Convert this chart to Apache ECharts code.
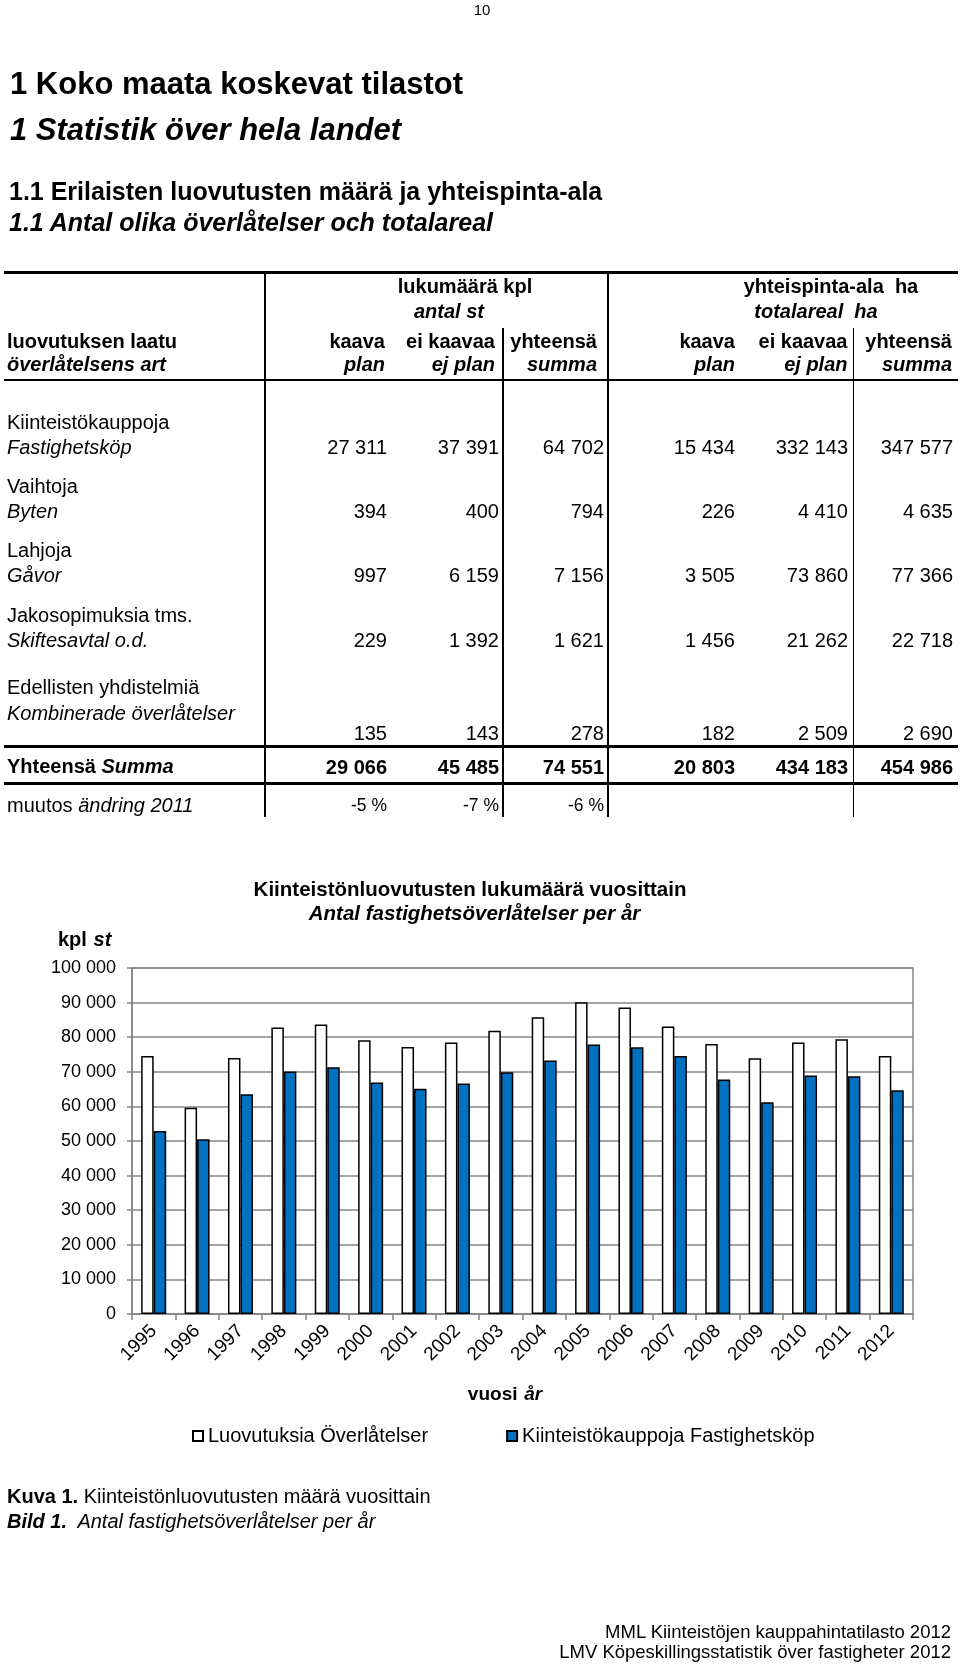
<!DOCTYPE html>
<html>
<head>
<meta charset="utf-8">
<script src="https://cdn.jsdelivr.net/npm/echarts@6/dist/echarts.min.js"></script>
<style>
  html, body { margin: 0; padding: 0; background: #fff; }
  #page { position: relative; width: 960px; height: 1665px; overflow: hidden;
          font-family: "Liberation Sans", Arial, Helvetica, sans-serif; color: #000; }
  #chart { position: absolute; left: 0; top: 0; width: 960px; height: 1665px; }
  .t { position: absolute; white-space: nowrap; line-height: 1; }
  .ln { position: absolute; background: #000; }
</style>
</head>
<body>
<div id="page">
  <div id="chart"></div>
</div>
<script>
// --- table data (2012) ---
const rowsFi = ['Kiinteistökauppoja', 'Vaihtoja', 'Lahjoja', 'Jakosopimuksia tms.', 'Edellisten yhdistelmiä'];
const rowsSv = ['Fastighetsköp', 'Byten', 'Gåvor', 'Skiftesavtal o.d.', 'Kombinerade överlåtelser'];
const countPlan = [27311, 394, 997, 229, 135];
const countNoPlan = [37391, 400, 6159, 1392, 143];
const countTotal = [64702, 794, 7156, 1621, 278];
const areaPlan = [15434, 226, 3505, 1456, 182];
const areaNoPlan = [332143, 4410, 73860, 21262, 2509];
const areaTotal = [347577, 4635, 77366, 22718, 2690];
const sumRow = [29066, 45485, 74551, 20803, 434183, 454986];
const changeRow = ['-5 %', '-7 %', '-6 %'];

// --- chart data ---
const years = ['1995', '1996', '1997', '1998', '1999', '2000', '2001', '2002', '2003',
               '2004', '2005', '2006', '2007', '2008', '2009', '2010', '2011', '2012'];
const transfers = [74600, 59600, 74000, 82800, 83700, 79100, 77200, 78500, 81900,
                   85800, 90100, 88600, 83100, 78000, 73900, 78500, 79400, 74551];
const purchases = [52900, 50500, 63500, 70100, 71300, 66900, 65100, 66600, 69900,
                   73300, 77900, 77100, 74600, 67800, 61200, 68900, 68700, 64702];

const page = document.getElementById('page');
const FONT = '"Liberation Sans", Arial, Helvetica, sans-serif';

function fmt(n) {
  return String(n).replace(/\B(?=(\d{3})+(?!\d))/g, ' ');
}

// put text with its vertical middle at y; align l / r / c
function put(html, x, y, size, align, css) {
  const d = document.createElement('div');
  d.className = 't';
  d.innerHTML = html;
  d.style.left = x + 'px';
  d.style.top = y + 'px';
  d.style.fontSize = size + 'px';
  const tx = align === 'r' ? '-100%' : align === 'c' ? '-50%' : '0';
  d.style.transform = 'translate(' + tx + ',-50%)';
  if (css) d.style.cssText += css;
  page.appendChild(d);
}

function hline(x1, x2, y, w) {
  const d = document.createElement('div');
  d.className = 'ln';
  d.style.left = x1 + 'px'; d.style.width = (x2 - x1) + 'px';
  d.style.top = (y - w / 2) + 'px'; d.style.height = w + 'px';
  page.appendChild(d);
}
function vline(x, y1, y2, w) {
  const d = document.createElement('div');
  d.className = 'ln';
  d.style.left = (x - w / 2) + 'px'; d.style.width = w + 'px';
  d.style.top = y1 + 'px'; d.style.height = (y2 - y1) + 'px';
  page.appendChild(d);
}

// page heading
put('10', 482, 8.5, 15, 'c');
put('1 Koko maata koskevat tilastot', 10, 83, 31, 'l', 'font-weight:bold;');
put('1 Statistik över hela landet', 10, 129, 31, 'l', 'font-weight:bold;font-style:italic;');
put('1.1 Erilaisten luovutusten määrä ja yhteispinta-ala', 9, 191, 25, 'l', 'font-weight:bold;');
put('1.1 Antal olika överlåtelser och totalareal', 9, 222, 25, 'l', 'font-weight:bold;font-style:italic;');

// table lines
hline(4, 958, 272.5, 3);
hline(4, 958, 380, 2.7);
hline(4, 958, 746.5, 3);
hline(4, 958, 783.5, 3);
vline(265, 274, 817, 1.8);
vline(608, 274, 817, 1.8);
vline(503, 328, 817, 1.8);
vline(853.5, 328, 817, 1.8);

// table header
const B = 'font-weight:bold;';
const BI = 'font-weight:bold;font-style:italic;';
put('lukumäärä kpl', 465, 286, 20, 'c', B);
put('antal st', 449, 311, 20, 'c', BI);
put('yhteispinta-ala&nbsp; ha', 831, 286, 20, 'c', B);
put('totalareal&nbsp; ha', 816, 311, 20, 'c', BI);
put('luovutuksen laatu', 7, 341, 20, 'l', B);
put('överlåtelsens art', 7, 364, 20, 'l', BI);
const headR = [385, 495, 597, 735, 847.5, 952];
const headFi = ['kaava', 'ei kaavaa', 'yhteensä', 'kaava', 'ei kaavaa', 'yhteensä'];
const headSv = ['plan', 'ej plan', 'summa', 'plan', 'ej plan', 'summa'];
headR.forEach((x, i) => {
  put(headFi[i], x, 341, 20, 'r', B);
  put(headSv[i], x, 364, 20, 'r', BI);
});

// table body
const colR = [387, 499, 604, 735, 848, 953];
const cols = [countPlan, countNoPlan, countTotal, areaPlan, areaNoPlan, areaTotal];
const yFi = [422, 486, 550, 615, 687];
const ySv = [446.5, 511, 575, 640, 713];
const yNum = [446.5, 511, 575, 640, 733];
rowsFi.forEach((name, r) => {
  put(name, 7, yFi[r], 20, 'l');
  put(rowsSv[r], 7, ySv[r], 20, 'l', 'font-style:italic;');
  cols.forEach((col, c) => put(fmt(col[r]), colR[c], yNum[r], 20, 'r'));
});
put('Yhteensä <i>Summa</i>', 7, 766, 20, 'l', B);
sumRow.forEach((v, c) => put(fmt(v), colR[c], 766.5, 20, 'r', B));
put('muutos <i>ändring 2011</i>', 7, 805, 20, 'l');
changeRow.forEach((v, c) => put(v, colR[c], 806, 17.5, 'r'));

// caption and footer
put('<b>Kuva 1.</b> Kiinteistönluovutusten määrä vuosittain', 7, 1496, 20, 'l');
put('<b>Bild 1.</b>&nbsp; Antal fastighetsöverlåtelser per år', 7, 1520.5, 20, 'l', 'font-style:italic;');
put('MML Kiinteistöjen kauppahintatilasto 2012', 951, 1632, 18.5, 'r');
put('LMV Köpeskillingsstatistik över fastigheter 2012', 951, 1652, 18.5, 'r');

// --- chart ---
const chart = echarts.init(document.getElementById('chart'));
const GRAY = '#868686';
chart.setOption({
  animation: false,
  textStyle: { fontFamily: FONT, color: '#000' },
  grid: { left: 132, right: 47, top: 968, bottom: 351, show: true,
          borderColor: GRAY, borderWidth: 1.5, backgroundColor: 'transparent' },
  graphic: [
    { type: 'text', x: 470, y: 890,
      style: { text: 'Kiinteistönluovutusten lukumäärä vuosittain', font: 'bold 20.5px ' + FONT,
               fill: '#000', align: 'center', verticalAlign: 'middle' } },
    { type: 'text', x: 474.5, y: 914,
      style: { text: 'Antal fastighetsöverlåtelser per år', font: 'italic bold 20.5px ' + FONT,
               fill: '#000', align: 'center', verticalAlign: 'middle' } },
    { type: 'text', x: 58, y: 940,
      style: { text: '{a|kpl}  {b|st}', align: 'left', verticalAlign: 'middle',
               rich: { a: { fontWeight: 'bold', fontSize: 20, fontFamily: FONT, fill: '#000' },
                       b: { fontWeight: 'bold', fontStyle: 'italic', fontSize: 20, fontFamily: FONT, fill: '#000' } } } },
    { type: 'text', x: 505, y: 1395,
      style: { text: '{a|vuosi}  {b|år}', align: 'center', verticalAlign: 'middle',
               rich: { a: { fontWeight: 'bold', fontSize: 19, fontFamily: FONT, fill: '#000' },
                       b: { fontWeight: 'bold', fontStyle: 'italic', fontSize: 19, fontFamily: FONT, fill: '#000' } } } }
  ],
  legend: {
    left: 187, top: 1421, icon: 'rect', itemWidth: 10, itemHeight: 10, itemGap: 78,
    textStyle: { fontSize: 20, color: '#000', fontFamily: FONT },
    data: ['Luovutuksia Överlåtelser', 'Kiinteistökauppoja Fastighetsköp']
  },
  xAxis: {
    type: 'category', data: years,
    axisLine: { lineStyle: { color: GRAY, width: 1.5 } },
    axisTick: { show: true, length: 6, lineStyle: { color: GRAY, width: 1.5 } },
    axisLabel: { rotate: 45, fontSize: 19, color: '#000', margin: 14, fontFamily: FONT }
  },
  yAxis: {
    type: 'value', min: 0, max: 100000, interval: 10000,
    axisLine: { show: true, lineStyle: { color: GRAY, width: 1.5 } },
    axisTick: { show: true, length: 5, lineStyle: { color: GRAY, width: 1.5 } },
    axisLabel: { fontSize: 18, color: '#000', margin: 16, fontFamily: FONT, formatter: v => fmt(v) },
    splitLine: { lineStyle: { color: GRAY, width: 1.5 } }
  },
  series: [
    { name: 'Luovutuksia Överlåtelser', type: 'bar', data: transfers, barWidth: 12.5, barGap: '0%',
      itemStyle: { color: '#fff', borderColor: '#000', borderWidth: 1.5 } },
    { name: 'Kiinteistökauppoja Fastighetsköp', type: 'bar', data: purchases, barWidth: 12.5, barGap: '0%',
      itemStyle: { color: '#0070C0', borderColor: '#000', borderWidth: 1.5 } }
  ]
});
</script>
</body>
</html>
